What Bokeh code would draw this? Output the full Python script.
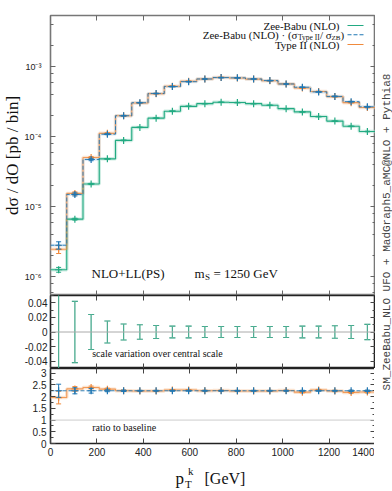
import math
from bokeh.plotting import figure
from bokeh.layouts import column, row
from bokeh.models import (Range1d, FixedTicker, LinearAxis, LogAxis, LogTicker, Label,
                          CustomJSTickFormatter, Span, CustomLabelingPolicy)
from bokeh.embed import file_html
from bokeh.resources import INLINE

# ---------------- data ----------------
bin_edges = [0, 70, 140, 210, 280, 350, 420, 490, 560, 630, 700, 770, 840, 910, 980,
             1050, 1120, 1190, 1260, 1330, 1400]
x_ticks = [0, 200, 400, 600, 800, 1000, 1200, 1400]

zb_nlo = [1.25e-6, 6.6e-6, 2.1e-5, 4.8e-5, 8.8e-5, 1.35e-4, 1.83e-4, 2.3e-4, 2.7e-4, 2.95e-4,
          3.09e-4, 3.06e-4, 2.95e-4, 2.8e-4, 2.5e-4, 2.25e-4, 1.93e-4, 1.66e-4, 1.4e-4, 1.18e-4]
zb_scaled = [2.8e-6, 1.49e-5, 4.7e-5, 1.08e-4, 1.98e-4, 3.04e-4, 4.12e-4, 5.18e-4, 6.08e-4, 6.64e-4,
             6.95e-4, 6.89e-4, 6.64e-4, 6.3e-4, 5.63e-4, 5.06e-4, 4.34e-4, 3.74e-4, 3.15e-4, 2.66e-4]
type2_nlo = [2.45e-6, 1.54e-5, 5.02e-5, 1.11e-4, 1.98e-4, 3.02e-4, 4.10e-4, 5.24e-4, 6.16e-4, 6.64e-4,
             6.98e-4, 6.85e-4, 6.61e-4, 6.27e-4, 5.65e-4, 4.93e-4, 4.40e-4, 3.72e-4, 3.05e-4, 2.6e-4]
# relative statistical errors
zb_relerr = [0.08, 0.03, 0.02, 0.012, 0.01, 0.008, 0.008, 0.007, 0.007, 0.007,
             0.007, 0.007, 0.007, 0.007, 0.007, 0.008, 0.008, 0.009, 0.01, 0.01]
scaled_relerr = [0.12, 0.05, 0.04, 0.015, 0.012, 0.01, 0.01, 0.008, 0.008, 0.008,
                 0.008, 0.008, 0.008, 0.008, 0.008, 0.009, 0.009, 0.01, 0.011, 0.012]
type2_relerr = [0.13, 0.05, 0.03, 0.02, 0.012, 0.01, 0.01, 0.009, 0.009, 0.009,
                0.009, 0.009, 0.009, 0.009, 0.009, 0.01, 0.01, 0.011, 0.012, 0.013]

# scale variation over central scale (symmetric half-width)
scale_var = [0.065, 0.042, 0.024, 0.015, 0.011, 0.010, 0.009, 0.008, 0.008, 0.0075,
             0.0075, 0.0075, 0.0075, 0.0075, 0.0075, 0.008, 0.008, 0.0085, 0.009, 0.0105]

# ratio to baseline
ratio_scaled = [2.25, 2.25, 2.25, 2.25, 2.25, 2.25, 2.25, 2.25, 2.25, 2.25,
                2.25, 2.25, 2.25, 2.25, 2.25, 2.25, 2.25, 2.25, 2.25, 2.25]
ratio_scaled_err = [0.28, 0.13, 0.1, 0.04, 0.03, 0.02, 0.02, 0.02, 0.02, 0.02,
                    0.02, 0.02, 0.02, 0.02, 0.02, 0.02, 0.02, 0.02, 0.03, 0.03]
ratio_type2 = [1.96, 2.33, 2.39, 2.32, 2.25, 2.24, 2.24, 2.28, 2.28, 2.25,
               2.26, 2.24, 2.24, 2.24, 2.26, 2.19, 2.28, 2.24, 2.18, 2.2]
ratio_type2_err = [0.27, 0.1, 0.06, 0.04, 0.03, 0.02, 0.02, 0.02, 0.02, 0.02,
                   0.02, 0.02, 0.02, 0.02, 0.02, 0.03, 0.03, 0.03, 0.04, 0.04]

mid_ticks = [-0.04, -0.02, 0, 0.02, 0.04]
mid_minor = [-0.05, -0.03, -0.01, 0.01, 0.03, 0.05]
bot_ticks = [0, 0.5, 1, 1.5, 2, 2.5, 3]
bot_minor = [0.25, 0.75, 1.25, 1.75, 2.25, 2.75]

# ---------------- style ----------------
GREEN = "#22aa82"
GREEN_L = "#9fdcc8"
BLUE = "#1f77b4"
BLUE_L = "#9cc8e8"
ORANGE = "#f08a3c"
ORANGE_L = "#f8c8a0"
SERIF = "Liberation Serif"
SANS = "Liberation Sans"
MONO = "Liberation Mono"

YL_W = 21            # width of the y-title strip
FW = 325             # frame width
LB = 49 - YL_W       # left border of the panels
TOP = 15
RT_W = 18            # right caption strip
BOT_B = 18           # border under the ratio panel (tick labels)
TOTAL_W = YL_W + LB + FW + RT_W
TOTAL_H = 491
UPPER_H = 443 + BOT_B
XL_H = TOTAL_H - UPPER_H

centers = [(bin_edges[i] + bin_edges[i + 1]) / 2 for i in range(len(bin_edges) - 1)]


def stepy(v):
    return list(v) + [v[-1]]


def no_labels():
    return CustomLabelingPolicy(code="""
for (const i of Array.from(indices)) indices.unset(i);
return indices;
""")


def style_axis(ax, labels, color="#555555", fs="10px"):
    ax.axis_line_color = None
    ax.major_tick_in = 5
    ax.major_tick_out = 0
    ax.minor_tick_in = 3
    ax.minor_tick_out = 0
    ax.major_tick_line_color = color
    ax.minor_tick_line_color = color
    ax.major_label_text_font = SANS
    ax.major_label_text_font_size = fs
    ax.major_label_text_color = "#222222"
    ax.major_label_standoff = 4
    if not labels:
        ax.major_label_policy = no_labels()


def make_fig(fh, yr, ytype, top, bottom, outline):
    p = figure(frame_width=FW, frame_height=fh, x_range=Range1d(0, 1400), y_range=yr,
               y_axis_type=ytype, output_backend="svg", toolbar_location=None,
               min_border_left=LB, min_border_right=0, min_border_top=top,
               min_border_bottom=bottom)
    p.grid.visible = False
    p.title.visible = False
    p.background_fill_color = "white"
    p.border_fill_color = "white"
    p.outline_line_color = outline
    p.outline_line_width = 1.6
    return p


def strip(w, h, xr, yr):
    f = figure(frame_width=w, frame_height=h, x_range=xr, y_range=yr, output_backend="svg",
               toolbar_location=None, min_border=0, min_border_left=0, min_border_right=0,
               min_border_top=0, min_border_bottom=0,
               x_axis_location=None, y_axis_location=None)
    f.grid.visible = False
    f.title.visible = False
    f.outline_line_color = None
    f.background_fill_color = "white"
    f.border_fill_color = "white"
    return f


def errbars(p, y_lo, y_hi, color, alpha=1.0, cap=6, lw=1.2):
    p.segment(x0=centers, y0=y_lo, x1=centers, y1=y_hi, line_color=color, line_width=lw,
              line_alpha=alpha)
    p.scatter(x=centers, y=y_lo, marker="dash", size=cap, line_color=color, line_width=lw,
              line_alpha=alpha)
    p.scatter(x=centers, y=y_hi, marker="dash", size=cap, line_color=color, line_width=lw,
              line_alpha=alpha)


def lab(p, x, y, text, size, align="left", font=SERIF, baseline="middle", color="#111111", angle=0.0):
    p.add_layout(Label(x=x, y=y, text=text, text_font=font, text_font_size=size,
                       text_align=align, text_baseline=baseline, text_color=color, angle=angle))


def gx(page_x):
    return (page_x - 49) / (FW / 1400.0)


# ---------------- main panel ----------------
log_top = -2.271
log_bot = -6.271
p1 = make_fig(280, Range1d(10 ** log_bot, 10 ** log_top), "log", TOP, 0, "#777777")
p1.yaxis.ticker = LogTicker()
p1.yaxis.formatter = CustomJSTickFormatter(code="""
const sup = {'-':'\u207b','0':'\u2070','1':'\u00b9','2':'\u00b2','3':'\u00b3','4':'\u2074',
             '5':'\u2075','6':'\u2076','7':'\u2077','8':'\u2078','9':'\u2079'};
const e = Math.round(Math.log10(tick));
return '10' + String(e).split('').map(c => sup[c]).join('');
""")
style_axis(p1.yaxis[0], True, "#666666", "9px")
p1.yaxis[0].major_label_standoff = 9
p1.xaxis.ticker = FixedTicker(ticks=x_ticks)
style_axis(p1.xaxis[0], False, "#666666")
p1.xaxis[0].fixed_location = 10 ** log_bot
ax_top = LinearAxis(ticker=FixedTicker(ticks=x_ticks), fixed_location=10 ** log_top)
style_axis(ax_top, False, "#666666")
p1.add_layout(ax_top, "above")
ax_r = LogAxis(ticker=LogTicker(), fixed_location=1400)
style_axis(ax_r, False, "#666666")
p1.add_layout(ax_r, "right")

# bands
p1.step(x=bin_edges, y=stepy(zb_nlo), mode="after", line_color=GREEN_L, line_width=3.5, line_alpha=0.5)
p1.step(x=bin_edges, y=stepy(type2_nlo), mode="after", line_color=ORANGE_L, line_width=3.5, line_alpha=0.45)
p1.step(x=bin_edges, y=stepy(zb_scaled), mode="after", line_color=BLUE_L, line_width=3, line_alpha=0.3)
# lines
p1.step(x=bin_edges, y=stepy(zb_nlo), mode="after", line_color=GREEN, line_width=1.1)
p1.step(x=bin_edges, y=stepy(type2_nlo), mode="after", line_color=ORANGE, line_width=1.1, line_alpha=0.8)
p1.step(x=bin_edges, y=stepy(zb_scaled), mode="after", line_color=BLUE, line_width=1.0,
        line_dash="4 2", line_alpha=0.9)
# points with errors
for vals, rel, col in ((type2_nlo, type2_relerr, ORANGE), (zb_scaled, scaled_relerr, BLUE),
                       (zb_nlo, zb_relerr, GREEN)):
    lo = [v * (1 - r) for v, r in zip(vals, rel)]
    hi = [v * (1 + r) for v, r in zip(vals, rel)]
    errbars(p1, lo, hi, col, cap=5, lw=1.0)
    p1.scatter(x=centers, y=vals, marker="cross", size=7, line_color=col, line_width=1.2)


def ly(page_y):
    return 10 ** (log_top - (page_y - TOP) / 70.0)


# legend
leg_x0, leg_x1 = gx(346), gx(362)
p1.line(x=[leg_x0, leg_x1], y=[ly(25), ly(25)], line_color=GREEN, line_width=1.2)
p1.line(x=[leg_x0, leg_x1], y=[ly(34.3), ly(34.3)], line_color=BLUE, line_width=1.1, line_dash="4 2")
p1.line(x=[leg_x0, leg_x1], y=[ly(44), ly(44)], line_color=ORANGE, line_width=1.2)

lab(p1, gx(338), ly(25), "Zee-Babu (NLO)", "11px", "right")
lab(p1, gx(296), ly(34.3), "Zee-Babu (NLO) \u00b7 (\u03c3", "11px", "right")
lab(p1, gx(296.5), ly(37), "Type II", "7.5px")
lab(p1, gx(318.5), ly(34.3), " / \u03c3", "11px")
lab(p1, gx(330), ly(37), "ZB", "7px")
lab(p1, gx(339), ly(34.3), ")", "11px")
lab(p1, gx(338), ly(44), "Type II (NLO)", "11px", "right")

lab(p1, gx(90), ly(272.7), "NLO+LL(PS)", "13px")
lab(p1, gx(193), ly(272.7), "m", "13px")
lab(p1, gx(203.5), ly(276), "S", "9px")
lab(p1, gx(212), ly(272.7), "= 1250 GeV", "13px")

# ---------------- scale variation panel ----------------
p2 = make_fig(73, Range1d(-0.05, 0.05), "linear", 0, 0, "#222222")
p2.yaxis.ticker = FixedTicker(ticks=mid_ticks, minor_ticks=mid_minor)
p2.yaxis.formatter = CustomJSTickFormatter(
    code="if (Math.abs(tick) < 1e-9) return '0'; return tick.toFixed(2);")
style_axis(p2.yaxis[0], True, "#444444")
p2.yaxis[0].major_label_standoff = 3
p2.xaxis.ticker = FixedTicker(ticks=x_ticks)
style_axis(p2.xaxis[0], False, "#444444")
p2.xaxis[0].fixed_location = -0.05
a2t = LinearAxis(ticker=FixedTicker(ticks=x_ticks), fixed_location=0.05)
style_axis(a2t, False, "#444444")
p2.add_layout(a2t, "above")
a2r = LinearAxis(ticker=FixedTicker(ticks=mid_ticks, minor_ticks=mid_minor), fixed_location=1400)
style_axis(a2r, False, "#444444")
p2.add_layout(a2r, "right")
p2.add_layout(Span(location=0, dimension="width", line_color="#aaaaaa", line_width=1))
errbars(p2, [-s for s in scale_var], scale_var, "#1a8f6f", cap=6, lw=1.1)
errbars(p2, [-s for s in scale_var], scale_var, GREEN_L, alpha=0.35, cap=6, lw=1.1)
lab(p2, gx(90.7), -(353.3 - 331.5) * 0.1 / 73, "scale variation over central scale", "10px")

# ---------------- ratio panel ----------------
p3 = make_fig(75, Range1d(0, 3.2), "linear", 0, BOT_B, "#222222")
p3.yaxis.ticker = FixedTicker(ticks=bot_ticks, minor_ticks=bot_minor)
p3.yaxis.formatter = CustomJSTickFormatter(code="return String(tick);")
style_axis(p3.yaxis[0], True, "#444444")
p3.xaxis.ticker = FixedTicker(ticks=x_ticks)
style_axis(p3.xaxis[0], True, "#444444")
a3t = LinearAxis(ticker=FixedTicker(ticks=x_ticks), fixed_location=3.2)
style_axis(a3t, False, "#444444")
p3.add_layout(a3t, "above")
a3r = LinearAxis(ticker=FixedTicker(ticks=bot_ticks, minor_ticks=bot_minor), fixed_location=1400)
style_axis(a3r, False, "#444444")
p3.add_layout(a3r, "right")
p3.add_layout(Span(location=1, dimension="width", line_color="#cccccc", line_width=1))
p3.step(x=bin_edges, y=stepy(ratio_type2), mode="after", line_color=ORANGE_L, line_width=3.5, line_alpha=0.5)
p3.step(x=bin_edges, y=stepy(ratio_type2), mode="after", line_color=ORANGE, line_width=1.1, line_alpha=0.8)
p3.step(x=bin_edges, y=stepy(ratio_scaled), mode="after", line_color=BLUE, line_width=1.0,
        line_dash="4 2", line_alpha=0.9)
errbars(p3, [r - e for r, e in zip(ratio_type2, ratio_type2_err)],
        [r + e for r, e in zip(ratio_type2, ratio_type2_err)], ORANGE, cap=5, lw=1.0)
p3.scatter(x=centers, y=ratio_type2, marker="cross", size=7, line_color=ORANGE, line_width=1.2)
errbars(p3, [r - e for r, e in zip(ratio_scaled, ratio_scaled_err)],
        [r + e for r, e in zip(ratio_scaled, ratio_scaled_err)], BLUE, cap=5, lw=1.0)
p3.scatter(x=centers, y=ratio_scaled, marker="cross", size=7, line_color=BLUE, line_width=1.2)


def ry(page_y):
    return (443 - page_y) * 3.2 / 75.0


lab(p3, gx(90.7), ry(426.7), "ratio to baseline", "10px")

# ---------------- y-title strip (page coordinates) ----------------
fy = strip(YL_W, UPPER_H, Range1d(0, YL_W), Range1d(UPPER_H, 0))
lab(fy, 11.5, 155, "d\u03c3 / dO [pb / bin]", "17px", "center", angle=math.pi / 2)

# ---------------- right-hand vertical caption (page coordinates) ----------------
x_r0 = YL_W + LB + FW
pt = strip(RT_W, UPPER_H, Range1d(x_r0, x_r0 + RT_W), Range1d(UPPER_H, 0))
lab(pt, 385, 231.5, "SM_ZeeBabu_NLO UFO + MadGraph5_aMC@NLO + Pythia8", "11px", "center",
    font=MONO, color="#444444", angle=math.pi / 2)

# ---------------- x-title strip (page coordinates, full width) ----------------
fx = strip(TOTAL_W, XL_H, Range1d(0, TOTAL_W), Range1d(TOTAL_H, UPPER_H))
lab(fx, 175, 477.5, "p", "17px")
lab(fx, 184.5, 483, "T", "11px")
lab(fx, 187.5, 470, "k", "11px")
lab(fx, 204, 477.5, "[GeV]", "16px")

layout = column(row(fy, column(p1, p2, p3), pt), fx)
open("out.html", "w").write(file_html(layout, INLINE))
